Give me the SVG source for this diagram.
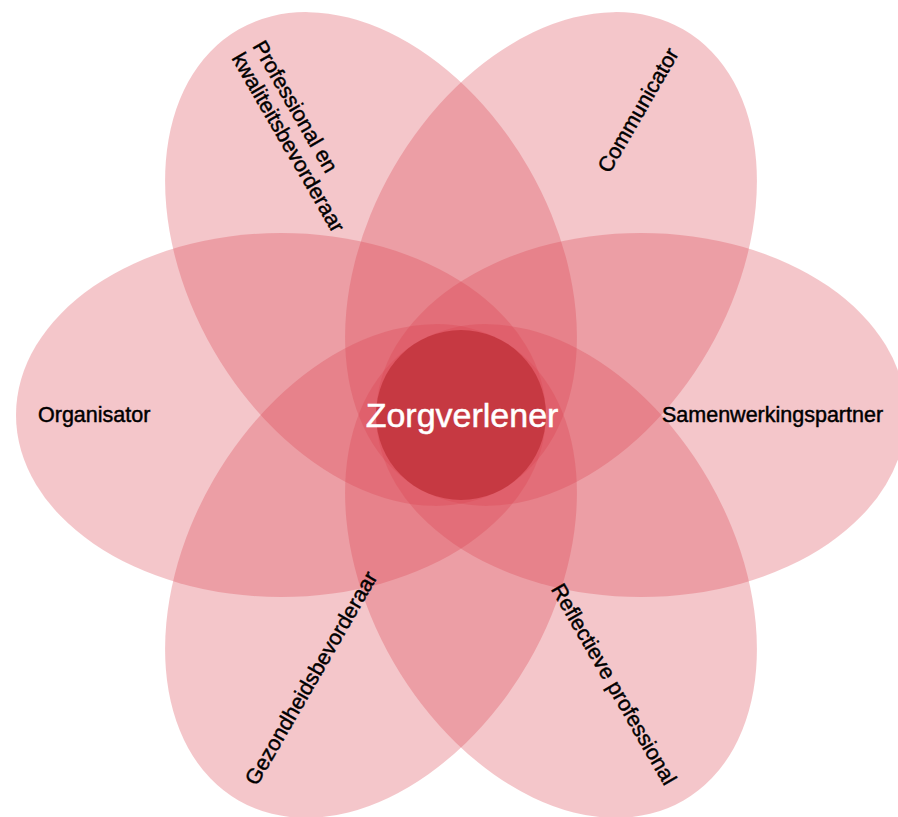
<svg xmlns="http://www.w3.org/2000/svg" width="898" height="817" viewBox="0 0 898 817">
<style>
.petal{fill:#da414e;fill-opacity:0.3;}
.core{fill:#a8161b;fill-opacity:0.45;}
.lbl{font-family:"Liberation Sans",Arial,Helvetica,sans-serif;font-size:21.5px;fill:#000;stroke:#000;stroke-width:0.45;}
.mid{text-anchor:middle;}
.center-lbl{font-family:"Liberation Sans",Arial,Helvetica,sans-serif;font-size:34px;fill:#fff;stroke:#fff;stroke-width:0.5;text-anchor:middle;}
</style>
<rect width="898" height="817" fill="#fff"/>
<g id="nodes">
<g id="node-organisator"><ellipse class="petal" cx="281" cy="415" rx="265" ry="182"/></g>
<g id="node-samenwerkingspartner"><ellipse class="petal" cx="641" cy="415" rx="265" ry="182"/></g>
<g id="node-professional"><ellipse class="petal" cx="0" cy="0" rx="265" ry="182" transform="translate(371 259) rotate(60)"/></g>
<g id="node-communicator"><ellipse class="petal" cx="0" cy="0" rx="265" ry="182" transform="translate(551 259) rotate(-60)"/></g>
<g id="node-gezondheidsbevorderaar"><ellipse class="petal" cx="0" cy="0" rx="265" ry="182" transform="translate(371 571) rotate(-60)"/></g>
<g id="node-reflectieve"><ellipse class="petal" cx="0" cy="0" rx="265" ry="182" transform="translate(551 571) rotate(60)"/></g>
<g id="node-zorgverlener"><circle class="core" cx="461" cy="415" r="85"/></g>
</g>
<g id="connectors"></g>
<g id="labels">
<text id="label-zorgverlener" class="center-lbl" x="462" y="427">Zorgverlener</text>
<text id="label-organisator" class="lbl" x="38" y="422">Organisator</text>
<text id="label-samenwerkingspartner" class="lbl" x="662" y="422">Samenwerkingspartner</text>
<text id="label-communicator" class="lbl mid" transform="translate(638 110) rotate(-60)" x="0" y="7.5">Communicator</text>
<text id="label-professional" class="lbl" transform="translate(252 46) rotate(60)"><tspan x="0" y="0">Professional en</tspan><tspan x="0" y="24">kwaliteitsbevorderaar</tspan></text>
<text id="label-gezondheidsbevorderaar" class="lbl mid" transform="translate(311 678) rotate(-60)" x="0" y="7.5">Gezondheidsbevorderaar</text>
<text id="label-reflectieve" class="lbl mid" transform="translate(614 684) rotate(60)" x="0" y="7.5">Reflectieve professional</text>
</g>
</svg>
